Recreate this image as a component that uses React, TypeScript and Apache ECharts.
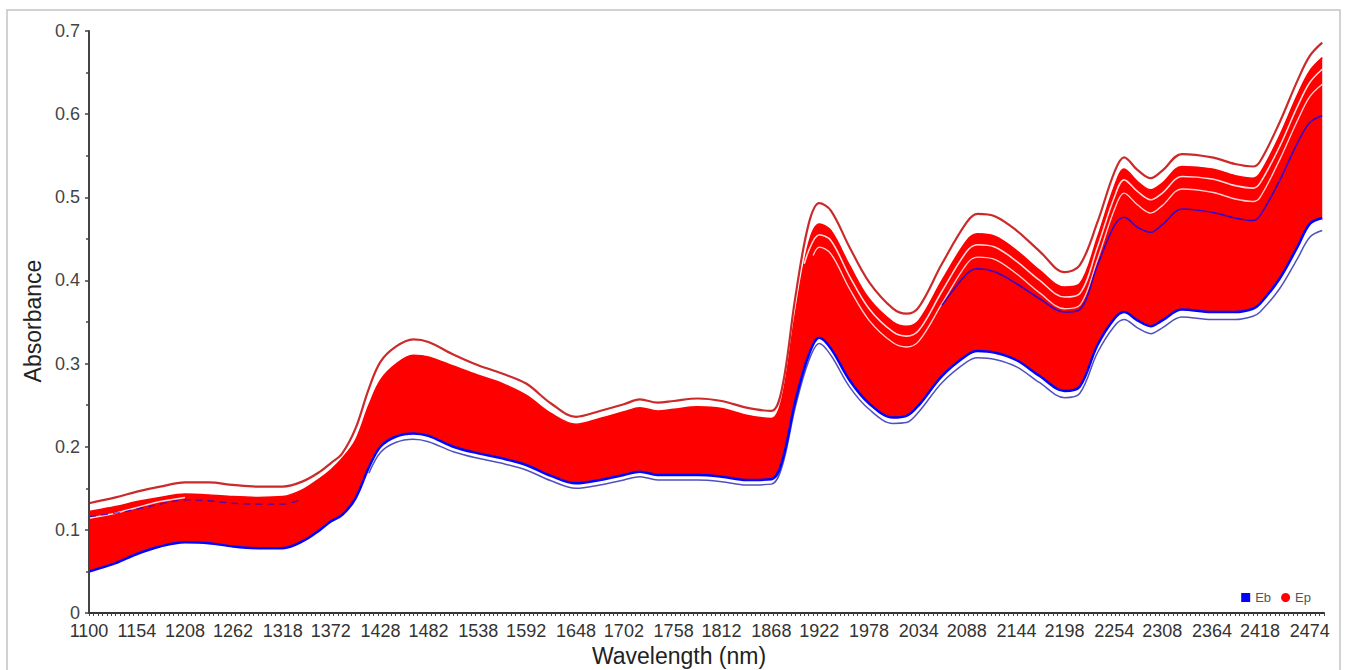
import React, { useEffect, useRef } from "react";
import * as echarts from "echarts";

// Tick labels on the wavelength axis (nm)
const xTickLabels = [
  1100, 1154, 1208, 1262, 1318, 1372, 1428, 1482, 1538, 1592, 1648, 1702, 1758,
  1812, 1868, 1922, 1978, 2034, 2088, 2144, 2198, 2254, 2308, 2364, 2418, 2474,
];

// Topmost separated Ep spectrum (outlier line above the band)
const epTop = [
  [1100, 0.132], [1130, 0.139], [1154, 0.146], [1180, 0.152], [1208, 0.157], [1235, 0.157],
  [1262, 0.154], [1290, 0.152], [1318, 0.152], [1340, 0.158], [1360, 0.17], [1372, 0.18],
  [1385, 0.192], [1400, 0.222], [1415, 0.27], [1428, 0.302], [1445, 0.32], [1465, 0.329],
  [1482, 0.326], [1510, 0.311], [1538, 0.298], [1565, 0.288], [1592, 0.276], [1620, 0.252],
  [1648, 0.236], [1675, 0.243], [1702, 0.251], [1720, 0.257], [1740, 0.253], [1758, 0.255],
  [1785, 0.258], [1812, 0.255], [1840, 0.247], [1868, 0.243], [1880, 0.27], [1895, 0.38],
  [1910, 0.468], [1922, 0.493], [1935, 0.484], [1956, 0.44], [1978, 0.398], [2005, 0.366],
  [2020, 0.36], [2034, 0.368], [2060, 0.42], [2088, 0.47], [2100, 0.48], [2120, 0.477],
  [2144, 0.46], [2170, 0.435], [2198, 0.41], [2215, 0.418], [2235, 0.47], [2254, 0.53],
  [2265, 0.548], [2280, 0.533], [2295, 0.523], [2308, 0.532], [2330, 0.552], [2364, 0.548],
  [2390, 0.54], [2410, 0.537], [2418, 0.543], [2440, 0.59], [2460, 0.64], [2474, 0.67],
  [2488, 0.686],
];

// Upper edge of the dense Ep band
const epBand = [
  [1100, 0.122], [1130, 0.128], [1154, 0.134], [1180, 0.139], [1208, 0.143], [1235, 0.142],
  [1262, 0.14], [1290, 0.139], [1318, 0.14], [1340, 0.148], [1360, 0.162], [1372, 0.172],
  [1385, 0.186], [1400, 0.208], [1415, 0.25], [1428, 0.28], [1445, 0.299], [1465, 0.31],
  [1482, 0.308], [1510, 0.297], [1538, 0.286], [1565, 0.276], [1592, 0.262], [1620, 0.24],
  [1648, 0.227], [1675, 0.234], [1702, 0.242], [1720, 0.247], [1740, 0.243], [1758, 0.245],
  [1785, 0.248], [1812, 0.246], [1840, 0.238], [1868, 0.234], [1880, 0.258], [1895, 0.36],
  [1910, 0.445], [1922, 0.468], [1935, 0.46], [1956, 0.418], [1978, 0.378], [2005, 0.35],
  [2020, 0.345], [2034, 0.352], [2060, 0.4], [2088, 0.448], [2100, 0.456], [2120, 0.453],
  [2144, 0.436], [2170, 0.412], [2198, 0.392], [2215, 0.396], [2235, 0.452], [2254, 0.513],
  [2265, 0.534], [2280, 0.519], [2295, 0.509], [2308, 0.517], [2330, 0.537], [2364, 0.534],
  [2390, 0.526], [2410, 0.523], [2418, 0.529], [2440, 0.574], [2460, 0.623], [2474, 0.652],
  [2488, 0.668],
];

// Gaps between separate spectra inside the upper band
const bandGapLeft = [
  [1100, 0.114], [1130, 0.12], [1154, 0.127], [1180, 0.134], [1208, 0.139],
];
const bandGapRight1 = [
  [1905, 0.42], [1922, 0.455], [1935, 0.448], [1956, 0.405], [1978, 0.366], [2005, 0.338],
  [2020, 0.333], [2034, 0.34], [2060, 0.387], [2088, 0.435], [2100, 0.443], [2120, 0.44],
  [2144, 0.423], [2170, 0.4], [2198, 0.38], [2215, 0.384], [2235, 0.44], [2254, 0.5],
  [2265, 0.521], [2280, 0.507], [2295, 0.497], [2308, 0.505], [2330, 0.525], [2364, 0.522],
  [2390, 0.514], [2410, 0.511], [2418, 0.517], [2440, 0.561], [2460, 0.609], [2474, 0.638],
  [2488, 0.654],
];
const bandGapRight2 = [
  [1915, 0.43], [1922, 0.44], [1935, 0.432], [1956, 0.39], [1978, 0.352], [2005, 0.325],
  [2020, 0.32], [2034, 0.327], [2060, 0.372], [2088, 0.42], [2100, 0.428], [2120, 0.425],
  [2144, 0.408], [2170, 0.385], [2198, 0.366], [2215, 0.37], [2235, 0.425], [2254, 0.485],
  [2265, 0.505], [2280, 0.491], [2295, 0.481], [2308, 0.49], [2330, 0.51], [2364, 0.506],
  [2390, 0.498], [2410, 0.495], [2418, 0.5], [2440, 0.545], [2460, 0.592], [2474, 0.621],
  [2488, 0.636],
];

// Eb spectra lying in the upper part of the band
const ebUpperLeft = [
  [1100, 0.116], [1130, 0.12], [1154, 0.125], [1180, 0.131], [1208, 0.136], [1235, 0.135],
  [1262, 0.132], [1290, 0.131], [1318, 0.131], [1340, 0.137],
];
const ebUpperRight = [
  [2060, 0.37], [2088, 0.408], [2100, 0.414], [2120, 0.41], [2144, 0.396], [2170, 0.378],
  [2198, 0.362], [2215, 0.365], [2235, 0.418], [2254, 0.466], [2265, 0.476], [2280, 0.464],
  [2295, 0.458], [2308, 0.467], [2330, 0.486], [2364, 0.482], [2390, 0.475], [2410, 0.472],
  [2418, 0.478], [2440, 0.52], [2460, 0.565], [2474, 0.59], [2488, 0.598],
];

// Lower edge of the band (Eb spectra)
const ebBottom = [
  [1100, 0.05], [1130, 0.06], [1154, 0.071], [1180, 0.08], [1208, 0.085], [1235, 0.084],
  [1262, 0.08], [1290, 0.078], [1318, 0.078], [1340, 0.086], [1360, 0.1], [1372, 0.11],
  [1385, 0.118], [1400, 0.138], [1415, 0.175], [1428, 0.2], [1445, 0.212], [1465, 0.216],
  [1482, 0.213], [1510, 0.2], [1538, 0.192], [1565, 0.186], [1592, 0.178], [1620, 0.165],
  [1648, 0.156], [1675, 0.16], [1702, 0.166], [1720, 0.17], [1740, 0.166], [1758, 0.166],
  [1785, 0.166], [1812, 0.164], [1840, 0.16], [1868, 0.161], [1880, 0.182], [1895, 0.255],
  [1910, 0.31], [1922, 0.331], [1935, 0.318], [1956, 0.28], [1978, 0.252], [2005, 0.235],
  [2020, 0.237], [2034, 0.25], [2060, 0.285], [2088, 0.31], [2100, 0.315], [2120, 0.313],
  [2144, 0.304], [2170, 0.285], [2198, 0.267], [2215, 0.272], [2235, 0.322], [2254, 0.354],
  [2265, 0.362], [2280, 0.352], [2295, 0.345], [2308, 0.352], [2330, 0.365], [2364, 0.362],
  [2390, 0.362], [2410, 0.366], [2418, 0.372], [2440, 0.402], [2460, 0.44], [2474, 0.468],
  [2488, 0.475],
];

// Lowest, separated Eb spectrum
const ebLowest = [
  [1415, 0.168], [1428, 0.193], [1445, 0.205], [1465, 0.209], [1482, 0.206], [1510, 0.194],
  [1538, 0.186], [1565, 0.18], [1592, 0.172], [1620, 0.159], [1648, 0.15], [1675, 0.154],
  [1702, 0.16], [1720, 0.164], [1740, 0.16], [1758, 0.16], [1785, 0.16], [1812, 0.158],
  [1840, 0.154], [1868, 0.155], [1880, 0.176], [1895, 0.248], [1910, 0.303], [1922, 0.324],
  [1935, 0.31], [1956, 0.272], [1978, 0.245], [2005, 0.228], [2020, 0.229], [2034, 0.242],
  [2060, 0.277], [2088, 0.302], [2100, 0.307], [2120, 0.305], [2144, 0.296], [2170, 0.277],
  [2198, 0.259], [2215, 0.264], [2235, 0.313], [2254, 0.345], [2265, 0.353], [2280, 0.343],
  [2295, 0.336], [2308, 0.343], [2330, 0.356], [2364, 0.353], [2390, 0.353], [2410, 0.357],
  [2418, 0.362], [2440, 0.39], [2460, 0.426], [2474, 0.452], [2488, 0.46],
];

const FONT = "'Liberation Sans', Arial, Helvetica, sans-serif";
const RED = "#ff0000";
const BLUE = "#0000ff";

export default function App() {
  const ref = useRef<HTMLDivElement>(null);

  useEffect(() => {
    document.body.style.margin = "0";
    if (!ref.current) return;
    const chart = echarts.init(ref.current, null, { renderer: "svg" });

    const base = {
      type: "line",
      smooth: 0.35,
      showSymbol: false,
      symbol: "none",
      silent: true,
      xAxisIndex: 0,
      yAxisIndex: 0,
    };

    const staticGraphics: any[] = [
      {
        id: "frame",
        type: "rect",
        silent: true,
        z: -1,
        shape: { x: 7, y: 10, width: 1333, height: 700 },
        style: { fill: "none", stroke: "#c4c4c4", lineWidth: 1.5 },
      },
      {
        id: "yname",
        type: "text",
        silent: true,
        x: 33,
        y: 321,
        rotation: Math.PI / 2,
        style: {
          text: "Absorbance",
          fontSize: 23,
          fontFamily: FONT,
          fill: "#222",
          align: "center",
          verticalAlign: "middle",
        },
      },
      {
        id: "xname",
        type: "text",
        silent: true,
        x: 679,
        y: 656,
        style: {
          text: "Wavelength (nm)",
          fontSize: 23,
          fontFamily: FONT,
          fill: "#222",
          align: "center",
          verticalAlign: "middle",
        },
      },
    ];

    chart.setOption({
      animation: false,
      backgroundColor: "#ffffff",
      textStyle: { fontFamily: FONT },
      grid: { left: 89, right: 22, top: 31, bottom: 57, containLabel: false },
      legend: {
        right: 30,
        top: 586,
        itemWidth: 9,
        itemHeight: 9,
        itemGap: 10,
        textStyle: { fontSize: 13, color: "#555", fontFamily: FONT },
        data: [
          { name: "Eb", icon: "rect" },
          { name: "Ep", icon: "circle" },
        ],
      },
      xAxis: [
        {
          type: "value",
          min: 1100,
          max: 2490,
          z: 10,
          axisLine: { show: true, onZero: false, lineStyle: { color: "#333", width: 2 } },
          axisTick: { show: false },
          splitLine: { show: false },
          axisLabel: {
            customValues: xTickLabels,
            fontSize: 18,
            color: "#333",
            margin: 9,
            fontFamily: FONT,
            formatter: (v: number) => String(v),
          },
        },
        {
          type: "value",
          position: "bottom",
          min: 1100,
          max: 2490,
          interval: 5,
          z: 10,
          axisLine: { show: false, onZero: false },
          axisTick: { show: true, length: 3, lineStyle: { color: "#444", width: 1 } },
          axisLabel: { show: false },
          splitLine: { show: false },
        },
      ],
      yAxis: {
        type: "value",
        min: 0,
        max: 0.7,
        interval: 0.1,
        z: 10,
        axisLine: { show: true, onZero: false, lineStyle: { color: "#444", width: 2 } },
        axisTick: { show: true, length: 4, lineStyle: { color: "#444", width: 1.5 } },
        minorTick: { show: true, splitNumber: 2, length: 3, lineStyle: { color: "#444", width: 1.5 } },
        splitLine: { show: false },
        axisLabel: {
          fontSize: 18,
          color: "#444",
          margin: 9,
          fontFamily: FONT,
          formatter: (v: number) => (v === 0 ? "0" : v.toFixed(1)),
        },
      },
      graphic: staticGraphics,
      series: [
        {
          ...base,
          name: "Ep",
          data: epBand,
          z: 2,
          itemStyle: { color: RED },
          lineStyle: { color: RED, width: 1.5 },
          areaStyle: { color: RED, opacity: 1, origin: "start" },
        },
        {
          ...base,
          name: "band-mask",
          data: ebBottom,
          z: 3,
          lineStyle: { width: 0, color: "#fff" },
          areaStyle: { color: "#ffffff", opacity: 1, origin: "start" },
        },
        {
          ...base,
          name: "gap-left",
          data: bandGapLeft,
          z: 4,
          lineStyle: { color: "#fff", width: 1.5, opacity: 0.85 },
        },
        {
          ...base,
          name: "gap-right-1",
          data: bandGapRight1,
          z: 4,
          lineStyle: { color: "#fff", width: 1.6, opacity: 0.85 },
        },
        {
          ...base,
          name: "gap-right-2",
          data: bandGapRight2,
          z: 4,
          lineStyle: { color: "#fff", width: 1.4, opacity: 0.8 },
        },
        {
          ...base,
          name: "eb-upper-left",
          data: ebUpperLeft,
          z: 5,
          lineStyle: { color: BLUE, width: 1.3, opacity: 0.7, type: [7, 5] },
        },
        {
          ...base,
          name: "eb-upper-right",
          data: ebUpperRight,
          z: 5,
          lineStyle: { color: BLUE, width: 1.6, opacity: 0.8 },
        },
        {
          ...base,
          name: "eb-lowest",
          data: ebLowest,
          z: 5,
          lineStyle: { color: "#5050c0", width: 1.5 },
        },
        {
          ...base,
          name: "Eb",
          data: ebBottom,
          z: 6,
          itemStyle: { color: BLUE },
          lineStyle: { color: BLUE, width: 2.5 },
        },
        {
          ...base,
          name: "ep-top",
          data: epTop,
          z: 6,
          lineStyle: { color: "#cc2a2a", width: 2.2 },
        },
      ],
    });

    // Hide the anti-aliased seam where the red fill and the white mask end together.
    const last = ebBottom[ebBottom.length - 1];
    const endPt = chart.convertToPixel({ gridIndex: 0 }, [last[0], last[1]]) as number[];
    const basePt = chart.convertToPixel({ gridIndex: 0 }, [last[0], 0]) as number[];
    if (endPt && basePt) {
      chart.setOption({
        graphic: [
          ...staticGraphics,
          {
            id: "seam",
            type: "rect",
            silent: true,
            z: 4,
            shape: {
              x: endPt[0] - 1.5,
              y: endPt[1] + 3,
              width: 4,
              height: basePt[1] - endPt[1] - 5,
            },
            style: { fill: "#ffffff" },
          },
        ],
      });
    }

    return () => {
      chart.dispose();
    };
  }, []);

  return <div ref={ref} style={{ width: 1346, height: 670 }} />;
}
